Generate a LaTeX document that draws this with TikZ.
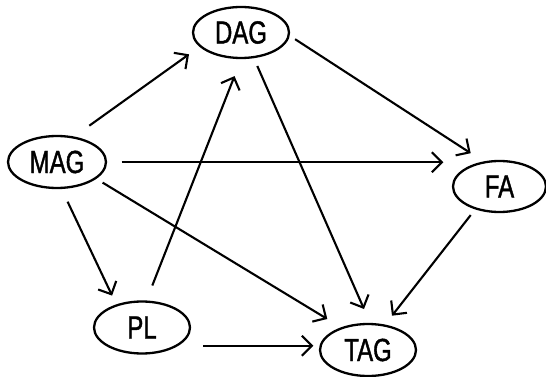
\documentclass[tikz,border=0pt]{standalone}
\usepackage{fontspec}
\newfontfamily\labfont[FakeStretch=0.75,FakeBold=1.2]{Liberation Sans}
\usetikzlibrary{shapes.geometric,arrows.meta}
\begin{document}
\begin{tikzpicture}[x=1pt,y=-1pt,
  state/.style={draw,ellipse,line width=2.3pt,inner sep=0pt,
    font=\labfont\fontsize{32}{34}\selectfont},
  arr/.style={line width=2.1pt,-{Straight Barb[length=10pt,width=20pt,line width=2.1pt]}}]
\useasboundingbox (0,0) rectangle (546,377);
% the five states
\node[state,minimum width=96pt,minimum height=51pt] (DAG) at (241,32.5) {DAG};
\node[state,minimum width=98pt,minimum height=52pt] (MAG) at (57,162) {MAG};
\node[state,minimum width=93pt,minimum height=51pt] (FA) at (499.5,186.5) {FA};
\node[state,minimum width=96pt,minimum height=52pt] (PL) at (142,327.5) {PL};
\node[state,minimum width=96pt,minimum height=52pt] (TAG) at (368,350) {TAG};
% transitions
\draw[arr] ([shift={(32.3,-36.3)}]MAG.center) -- ([shift={(-52,21.8)}]DAG.center);
\draw[arr] ([shift={(10.3,-42)}]PL.center) -- ([shift={(-6.5,43.6)}]DAG.center);
\draw[arr] ([shift={(54.1,6.7)}]DAG.center) -- ([shift={(-28.8,-33.3)}]FA.center);
\draw[arr] ([shift={(16.3,33.5)}]DAG.center) -- ([shift={(-4,-41)}]TAG.center);
\draw[arr] ([shift={(64.5,0.2)}]MAG.center) -- ([shift={(-56.1,-24.3)}]FA.center);
\draw[arr] ([shift={(45.6,20.6)}]MAG.center) -- ([shift={(-40.7,-31)}]TAG.center);
\draw[arr] ([shift={(10.6,39.7)}]MAG.center) -- ([shift={(-29.9,-31.9)}]PL.center);
\draw[arr] ([shift={(-28.8,28.6)}]FA.center) -- ([shift={(24,-34.3)}]TAG.center);
\draw[arr] ([shift={(61,18.3)}]PL.center) -- ([shift={(-54.7,-4.2)}]TAG.center);
\end{tikzpicture}
\end{document}
